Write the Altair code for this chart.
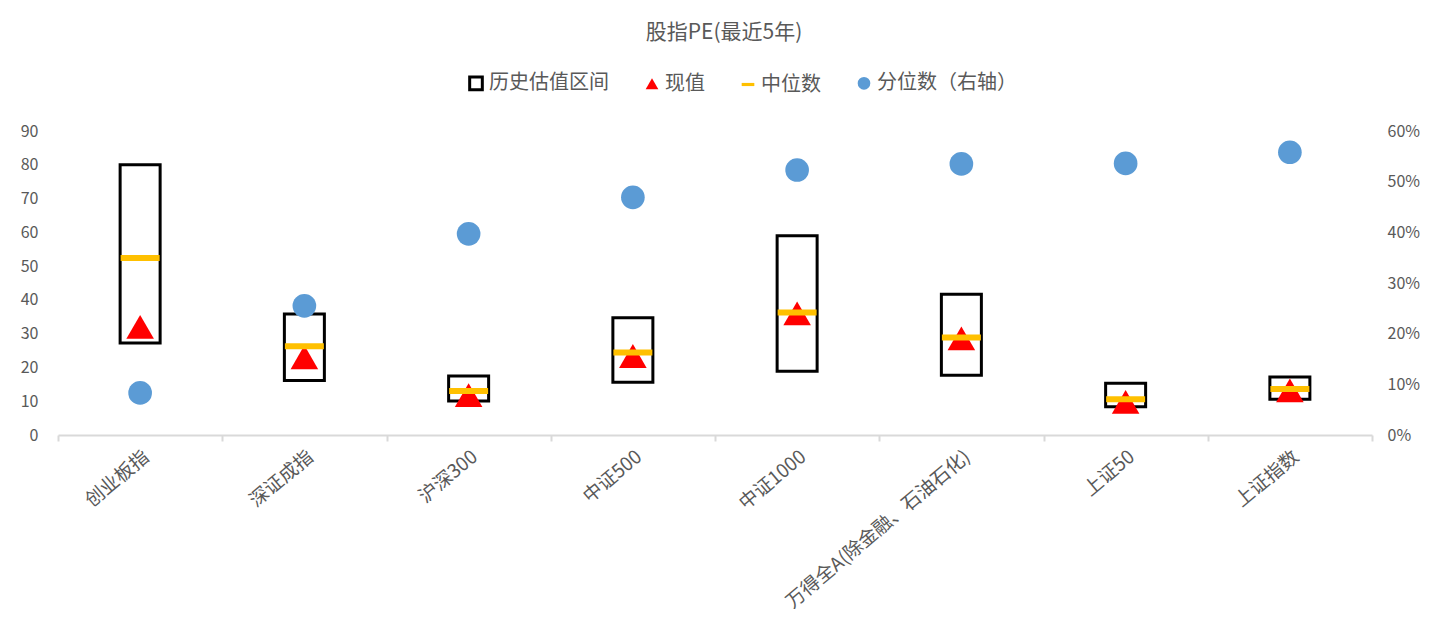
import altair as alt
import pandas as pd

# Index PE over the last five years
categories = ["创业板指", "深证成指", "沪深300", "中证500", "中证1000",
              "万得全A(除金融、石油石化)", "上证50", "上证指数"]
pe_high = [80.0, 35.8, 17.5, 34.7, 59.0, 41.7, 15.3, 17.2]
pe_low = [27.2, 16.1, 10.1, 15.6, 18.9, 17.7, 8.4, 10.6]
pe_median = [52.4, 26.3, 13.0, 24.4, 36.3, 28.9, 10.6, 13.6]
pe_now = [32.0, 23.0, 11.8, 23.4, 36.0, 28.6, 9.8, 13.2]
pct_rank = [0.083, 0.255, 0.397, 0.469, 0.523, 0.535, 0.536, 0.558]

series_names = ["历史估值区间", "现值", "中位数", "分位数（右轴）"]

df = pd.DataFrame({
    "指数": categories,
    "高": pe_high,
    "低": pe_low,
    "中位数": pe_median,
    "现值": pe_now,
    "分位数": pct_rank,
})
legend_df = pd.DataFrame({"系列": series_names})

FONT = "Noto Sans CJK SC"
GREY = "#595959"

x_enc = alt.X(
    "指数:N",
    sort=categories,
    title=None,
    scale=alt.Scale(paddingInner=0, paddingOuter=0),
    axis=alt.Axis(
        labelAngle=-40,
        labelFontSize=19,
        labelColor=GREY,
        labelPadding=6,
        domainColor="#D9D9D9",
        domainWidth=2,
        tickColor="#D9D9D9",
        tickWidth=2,
        tickSize=6,
        tickBand="extent",
        labelLimit=400,
    ),
)

left_scale = alt.Scale(domain=[0, 90], nice=False)
left_axis = alt.Axis(
    values=list(range(0, 91, 10)),
    labelFontSize=16,
    labelColor=GREY,
    labelPadding=20,
    labelOverlap=False,
    domain=False,
    ticks=False,
    grid=False,
)

base = alt.Chart(df).encode(x=x_enc)

boxes = base.mark_bar(size=40, fill="white", stroke="black", strokeWidth=3).encode(
    y=alt.Y("低:Q", scale=left_scale, axis=left_axis, title=None),
    y2="高:Q",
)

now_marks = base.mark_point(shape="triangle-up", filled=True, color="#FF0000",
                            size=760, opacity=1).encode(
    y=alt.Y("现值:Q", scale=left_scale, axis=left_axis, title=None),
)

median_marks = base.mark_tick(color="#FFC000", size=39, thickness=6, opacity=1).encode(
    y=alt.Y("中位数:Q", scale=left_scale, axis=left_axis, title=None),
)

legend_common = dict(title=None, orient="none", direction="horizontal",
                     legendX=408, legendY=-58, symbolOpacity=1)

legend_marks = alt.Chart(legend_df).mark_point(opacity=0).encode(
    x=alt.value(0),
    y=alt.value(0),
    shape=alt.Shape(
        "系列:N",
        sort=series_names,
        scale=alt.Scale(domain=series_names,
                        range=["square", "triangle-up", "M-1,-0.25H1V0.25H-1Z", "circle"]),
        legend=alt.Legend(
            labelFontSize=20,
            labelColor=GREY,
            labelFont=FONT,
            symbolSize=160,
            symbolStrokeWidth=3,
            columnPadding=30,
            labelOffset=3,
            **legend_common,
        ),
    ),
    fill=alt.Fill(
        "系列:N",
        sort=series_names,
        scale=alt.Scale(domain=series_names,
                        range=["white", "#FF0000", "#FFC000", "#5B9BD5"]),
        legend=alt.Legend(**legend_common),
    ),
    stroke=alt.Stroke(
        "系列:N",
        sort=series_names,
        scale=alt.Scale(domain=series_names,
                        range=["black", "transparent", "transparent", "transparent"]),
        legend=alt.Legend(**legend_common),
    ),
)

# current value sits under the median bar
left_layer = alt.layer(boxes, now_marks, median_marks, legend_marks)

dots = base.mark_circle(color="#5B9BD5", size=560, opacity=1).encode(
    y=alt.Y(
        "分位数:Q",
        title=None,
        scale=alt.Scale(domain=[0, 0.6], nice=False),
        axis=alt.Axis(
            orient="right",
            values=[0, 0.1, 0.2, 0.3, 0.4, 0.5, 0.6],
            format=".0%",
            labelFontSize=16,
            labelColor=GREY,
            labelPadding=15,
            labelOverlap=False,
            domain=False,
            ticks=False,
            grid=False,
        ),
    ),
)

chart = (
    alt.layer(left_layer, dots)
    .resolve_scale(y="independent", shape="shared", fill="shared", stroke="shared")
    .properties(
        width=1314,
        height=304,
        autosize=alt.AutoSizeParams(type="none"),
        padding={"left": 58, "top": 131, "right": 63, "bottom": 183},
        title=alt.TitleParams(
            "股指PE(最近5年)",
            fontSize=21,
            fontWeight="normal",
            color=GREY,
            font=FONT,
            anchor="middle",
            offset=30,
            dx=9,
        ),
    )
    .configure(font=FONT)
    .configure_view(stroke=None)
)

chart.save("out.html", embed_options={"renderer": "svg", "actions": False})
